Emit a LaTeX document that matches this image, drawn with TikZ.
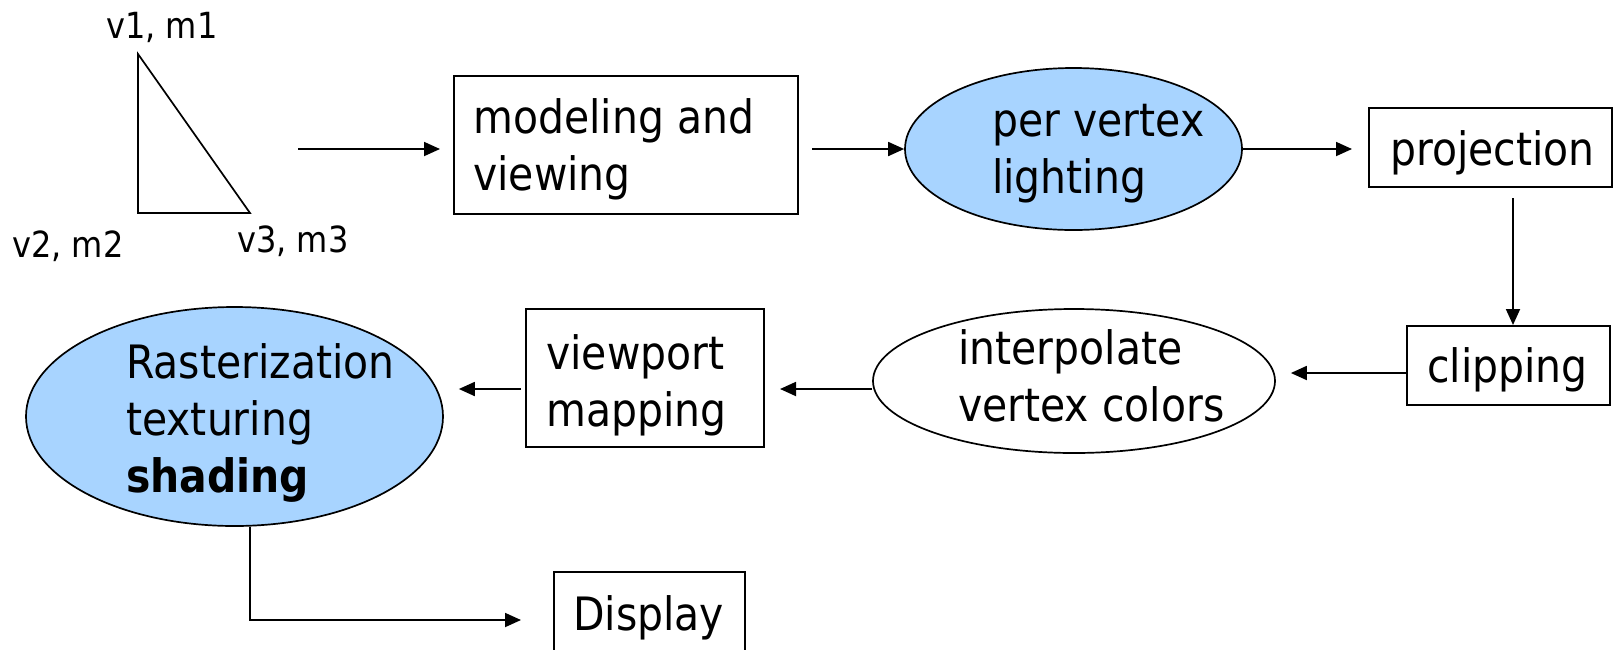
\documentclass[tikz,border=0pt]{standalone}
\usepackage{fontspec}
\setmainfont{DejaVu Sans}[FakeStretch=0.89]
\usetikzlibrary{shapes.geometric,arrows.meta}
\definecolor{stageblue}{RGB}{168,212,255}
\tikzset{
  boxnode/.style={draw, line width=2pt, inner sep=0pt, rectangle},
  ovalnode/.style={draw, line width=1.7pt, inner sep=0pt, ellipse},
  txt/.style={inner sep=0pt, anchor=base west, align=left,
    font=\fontsize{46}{57}\selectfont},
  lbl/.style={inner sep=0pt, anchor=base west, font=\fontsize{36}{42}\selectfont},
  arr/.style={line width=1.8pt, -{Triangle[length=16pt,width=14pt]}}
}
\begin{document}
\begin{tikzpicture}[x=1pt,y=-1pt]
\useasboundingbox (0,0) rectangle (1614,649);
% triangle
\coordinate (t1) at (138,54);
\coordinate (t2) at (138,213);
\coordinate (t3) at (250,213);
\draw[line width=1.7pt, line join=miter] (t1) -- (t2) -- (t3) -- cycle;
\node[lbl] (l1) at (106,38) {v1, m1};
\node[lbl] (l2) at (12,257) {v2, m2};
\node[lbl] (l3) at (237,252) {v3, m3};
% shapes
\node[boxnode, minimum width=344pt, minimum height=138pt] (model) at (626,145) {};
\node[ovalnode, fill=stageblue, minimum width=337pt, minimum height=162pt] (light) at (1073.5,149) {};
\node[boxnode, minimum width=243pt, minimum height=79pt] (proj) at (1490.5,147.5) {};
\node[boxnode, minimum width=203pt, minimum height=79pt] (clip) at (1508.5,365.5) {};
\node[ovalnode, minimum width=402pt, minimum height=144pt] (interp) at (1074,381) {};
\node[boxnode, minimum width=238pt, minimum height=138pt] (view) at (645,378) {};
\node[ovalnode, fill=stageblue, minimum width=417pt, minimum height=219pt] (raster) at (234.5,416.5) {};
\node[boxnode, minimum width=191pt, minimum height=86pt] (disp) at (649.5,615) {};
% texts (base = last line's baseline)
\node[txt] (modelt) at (473,190) {modeling and\\viewing};
\node[txt] (lightt) at (992,193) {per vertex\\lighting};
\node[txt] (projt) at (1390,165) {projection};
\node[txt] (clipt) at (1427,382) {clipping};
\node[txt] (interpt) at (958,421) {interpolate\\vertex colors};
\node[txt] (viewt) at (546,426) {viewport\\mapping};
\node[txt] (rastert) at (126,492) {Rasterization\\texturing\\\textbf{shading}};
\node[txt] (dispt) at (573,630) {Display};
% connectors
\coordinate (a1) at (298,149);
\draw[arr, shorten >=13pt] (a1) -- (a1 -| model.west);
\draw[arr, shorten <=13pt] (model.east |- light.west) -- (light.west);
\draw[arr, shorten >=16pt] (light.east) -- (light.east -| proj.west);
\draw[arr, shorten <=10pt] ([xshift=4.5pt]clip.north |- proj.south) -- ([xshift=4.5pt]clip.north);
\draw[arr, shorten >=15pt] ([yshift=-7.5pt]clip.west) -- ([yshift=-7.5pt]clip.west -| interp.east);
\draw[arr, shorten >=15pt] ([yshift=-8pt]interp.west) -- ([yshift=-8pt]interp.west -| view.east);
\draw[arr, shorten <=4pt, shorten >=15pt] ([yshift=-11pt]view.west) -- ([yshift=-11pt]view.west -| raster.east);
\draw[arr, shorten >=32pt] ([xshift=15.5pt]raster.south) |- ([yshift=-5pt]disp.west);
\end{tikzpicture}
\end{document}
